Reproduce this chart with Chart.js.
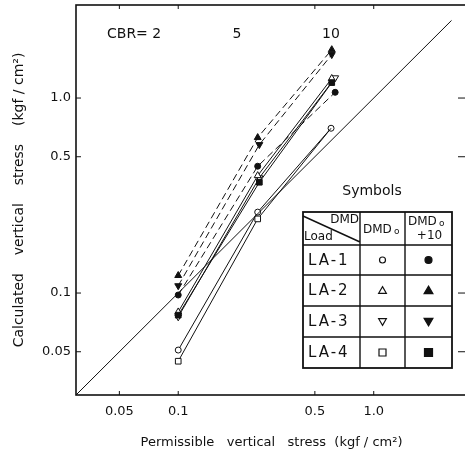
<!DOCTYPE html>
<html>
<head>
<meta charset="utf-8">
<script src="https://cdn.jsdelivr.net/npm/chart.js@4.4.0/dist/chart.umd.min.js"></script>
<style>
  html, body { margin: 0; padding: 0; background: #fff; overflow: hidden; width: 465px; height: 459px; }
  canvas { display: block; }
</style>
</head>
<body>
<canvas id="chart" width="472" height="459"></canvas>
<script>
// ── Data ─────────────────────────────────────────────────
const cbrLabels = ["CBR= 2", "5", "10"];
const xTicks = [0.05, 0.1, 0.5, 1.0];
const yTicks = [0.05, 0.1, 0.5, 1.0];
const loads = ["LA-1", "LA-2", "LA-3", "LA-4"];

// DMDo (open symbols)
const la1Dmd0X = [0.1, 0.255, 0.605];
const la1Dmd0 = [0.051, 0.26, 0.70];
const la2Dmd0X = [0.1, 0.255, 0.61];
const la2Dmd0 = [0.080, 0.40, 1.26];
const la3Dmd0X = [0.1, 0.26, 0.635];
const la3Dmd0 = [0.0755, 0.39, 1.27];
const la4Dmd0X = [0.1, 0.255, 0.605];
const la4Dmd0 = [0.0447, 0.24, 0.70];

// DMDo + 10 (filled symbols)
const la1Dmd10X = [0.1, 0.255, 0.635];
const la1Dmd10 = [0.0977, 0.447, 1.07];
const la2Dmd10X = [0.1, 0.255, 0.61];
const la2Dmd10 = [0.123, 0.627, 1.77];
const la3Dmd10X = [0.1, 0.26, 0.61];
const la3Dmd10 = [0.109, 0.577, 1.67];
const la4Dmd10X = [0.1, 0.26, 0.61];
const la4Dmd10 = [0.077, 0.37, 1.20];

// 1:1 reference line
const equalX = [0.03, 2.5];
const equalY = [0.03, 2.5];

const INK = "#111";
const FONT = "'DejaVu Sans', 'Liberation Sans', sans-serif";

function pts(xs, ys) {
  return xs.map((x, i) => ({ x: x, y: ys[i] }));
}

function series(label, xs, ys, style, filled, dashed, rot, radius) {
  const r = style === "circle" ? 3 : 4;
  return {
    label: label,
    data: pts(xs, ys),
    borderColor: INK,
    borderWidth: 1,
    borderDash: dashed ? [7, 4] : [],
    backgroundColor: filled ? INK : "#fff",
    pointStyle: style,
    pointRotation: rot || 0,
    pointRadius: radius || r,
    pointBorderWidth: 1,
    pointBorderColor: INK,
    pointBackgroundColor: filled ? INK : "#fff",
    tension: 0,
    fill: false
  };
}

// ── Small marker helper for the symbol table ─────────────
function marker(ctx, style, filled, x, y, r) {
  ctx.save();
  ctx.beginPath();
  if (style === "circle") {
    ctx.arc(x, y, r, 0, Math.PI * 2);
  } else if (style === "rect") {
    ctx.rect(x - r, y - r, 2 * r, 2 * r);
  } else if (style === "up") {
    ctx.moveTo(x, y - r * 1.1);
    ctx.lineTo(x + r * 1.1, y + r * 0.8);
    ctx.lineTo(x - r * 1.1, y + r * 0.8);
    ctx.closePath();
  } else {
    ctx.moveTo(x, y + r * 1.1);
    ctx.lineTo(x + r * 1.1, y - r * 0.8);
    ctx.lineTo(x - r * 1.1, y - r * 0.8);
    ctx.closePath();
  }
  ctx.lineWidth = 1.2;
  ctx.strokeStyle = INK;
  ctx.fillStyle = filled ? INK : "#fff";
  ctx.fill();
  ctx.stroke();
  ctx.restore();
}

// ── Frame, inward ticks, CBR labels, symbol table ────────
const framePlugin = {
  id: "frame",
  afterDraw(chart) {
    const { ctx, chartArea: a, scales } = chart;
    ctx.save();
    ctx.strokeStyle = INK;
    ctx.lineWidth = 1.6;
    ctx.strokeRect(a.left, a.top, a.right - a.left, a.bottom - a.top);

    // inward ticks
    ctx.lineWidth = 1;
    ctx.beginPath();
    xTicks.forEach(v => {
      const px = scales.x.getPixelForValue(v);
      ctx.moveTo(px, a.bottom); ctx.lineTo(px, a.bottom - 4);
      ctx.moveTo(px, a.top); ctx.lineTo(px, a.top + 4);
    });
    yTicks.forEach(v => {
      const py = scales.y.getPixelForValue(v);
      ctx.moveTo(a.left, py); ctx.lineTo(a.left + 5, py);
      ctx.moveTo(a.right, py); ctx.lineTo(a.right - 9, py);
    });
    ctx.stroke();

    // CBR labels
    ctx.fillStyle = INK;
    ctx.font = "14px " + FONT;
    ctx.textBaseline = "middle";
    ctx.textAlign = "left";
    ctx.fillText(cbrLabels[0], 107, 34);
    ctx.textAlign = "center";
    ctx.fillText(cbrLabels[1], 237, 34);
    ctx.fillText(cbrLabels[2], 331, 34);

    // symbol table
    const L = 303, T = 212, R = 452, B = 368;
    const c1 = 360, c2 = 405;
    const rows = [245, 275, 306, 337];
    ctx.fillText("Symbols", 372, 191);
    ctx.fillStyle = "#fff";
    ctx.fillRect(L, T, R - L, B - T);
    ctx.lineWidth = 1.8;
    ctx.strokeRect(L, T, R - L, B - T);
    ctx.lineWidth = 1.4;
    ctx.beginPath();
    ctx.moveTo(c1, T); ctx.lineTo(c1, B);
    ctx.moveTo(c2, T); ctx.lineTo(c2, B);
    rows.forEach(r => { ctx.moveTo(L, r); ctx.lineTo(R, r); });
    ctx.moveTo(L, T + 4); ctx.lineTo(c1, rows[0] - 3);
    ctx.stroke();

    ctx.fillStyle = INK;
    ctx.font = "12px " + FONT;
    ctx.textAlign = "right";
    ctx.fillText("DMD", c1 - 1, T + 8);
    ctx.textAlign = "left";
    ctx.fillText("Load", L + 1, rows[0] - 8);
    ctx.fillText("DMD", c1 + 3, (T + rows[0]) / 2 + 1);
    ctx.fillText("DMD", c2 + 3, T + 10);
    ctx.textAlign = "center";
    ctx.fillText("+10", (c2 + R) / 2 + 1, T + 24);
    ctx.font = "9px " + FONT;
    ctx.textAlign = "left";
    ctx.fillText("o", c1 + 34, (T + rows[0]) / 2 + 3);
    ctx.fillText("o", c2 + 34, T + 12);

    ctx.font = "15px " + FONT;
    ctx.letterSpacing = "2px";
    const styles = ["circle", "up", "down", "rect"];
    const bounds = rows.concat([B]);
    loads.forEach((name, i) => {
      const cy = (bounds[i] + bounds[i + 1]) / 2;
      ctx.textAlign = "left";
      ctx.fillText(name, L + 5, cy + 1);
      const r = styles[i] === "circle" ? 3 : 3.5;
      marker(ctx, styles[i], false, (c1 + c2) / 2, cy, r);
      marker(ctx, styles[i], true, (c2 + R) / 2, cy, r + 0.5);
    });
    ctx.restore();
  }
};

new Chart(document.getElementById("chart"), {
  type: "line",
  data: {
    datasets: [
      {
        label: "1:1",
        data: pts(equalX, equalY),
        borderColor: INK,
        borderWidth: 1,
        pointRadius: 0,
        fill: false
      },
      series("LA-1 DMDo+10", la1Dmd10X, la1Dmd10, "circle", true, true),
      series("LA-2 DMDo+10", la2Dmd10X, la2Dmd10, "triangle", true, true),
      series("LA-3 DMDo+10", la3Dmd10X, la3Dmd10, "triangle", true, true, 180),
      series("LA-4 DMDo+10", la4Dmd10X, la4Dmd10, "rect", true, false),
      series("LA-2 DMDo", la2Dmd0X, la2Dmd0, "triangle", false, false),
      series("LA-3 DMDo", la3Dmd0X, la3Dmd0, "triangle", false, false, 180),
      series("LA-4 DMDo", la4Dmd0X, la4Dmd0, "rect", false, false, 0, [4, 4, 0]),
      series("LA-1 DMDo", la1Dmd0X, la1Dmd0, "circle", false, false)
    ]
  },
  plugins: [framePlugin],
  options: {
    responsive: false,
    animation: false,
    layout: { padding: { top: 4, right: 2, left: 0, bottom: 0 } },
    plugins: { legend: { display: false }, tooltip: { enabled: false } },
    scales: {
      x: {
        type: "logarithmic",
        min: 0.03,
        max: 3,
        afterBuildTicks: s => { s.ticks = xTicks.map(v => ({ value: v })); },
        afterFit: s => { s.height = 64; s.paddingLeft = 0; s.paddingRight = 0; },
        grid: { display: false, drawTicks: false },
        border: { display: false },
        ticks: {
          color: INK,
          padding: 9,
          font: { family: FONT, size: 13 },
          maxRotation: 0,
          callback: v => (v === 1 ? "1.0" : String(v))
        },
        title: {
          display: true,
          text: "Permissible   vertical   stress  (kgf / cm²)",
          color: INK,
          font: { family: FONT, size: 13 },
          padding: { top: 0, bottom: 9 }
        }
      },
      y: {
        type: "logarithmic",
        min: 0.03,
        max: 3,
        afterBuildTicks: s => { s.ticks = yTicks.map(v => ({ value: v })); },
        afterFit: s => { s.width = 76; s.paddingTop = 0; s.paddingBottom = 0; },
        grid: { display: false, drawTicks: false },
        border: { display: false },
        ticks: {
          color: INK,
          padding: 5,
          font: { family: FONT, size: 13 },
          callback: v => (v === 1 ? "1.0" : String(v))
        },
        title: {
          display: true,
          text: "Calculated    vertical    stress    (kgf / cm²)",
          color: INK,
          font: { family: FONT, size: 14 },
          padding: { top: 11, bottom: 0 }
        }
      }
    }
  }
});
</script>
</body>
</html>
